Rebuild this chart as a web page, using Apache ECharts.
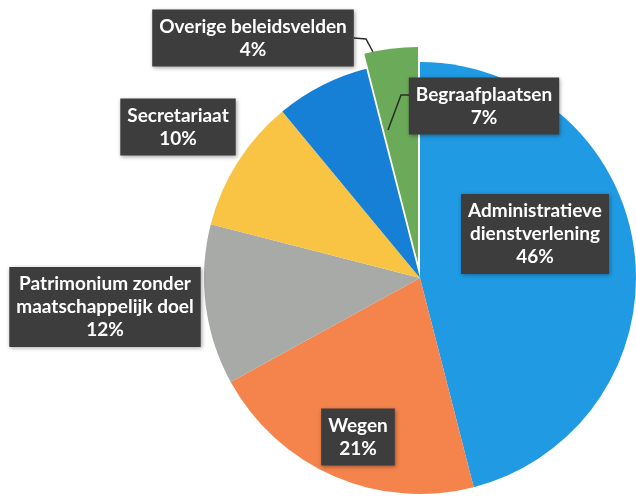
<!DOCTYPE html>
<html lang="nl">
<head>
    <meta charset="UTF-8">
    <title>Beleidsvelden</title>
    <script src="https://cdn.jsdelivr.net/npm/echarts@6/dist/echarts.min.js"></script>
</head>
<body style="margin:0;background:#fff;">
    <div id="main" style="width: 636px;height:497px;"></div>
    <script type="text/javascript">
        // data
        var categories = ['Administratieve\ndienstverlening', 'Wegen', 'Patrimonium zonder\nmaatschappelijk doel',
            'Secretariaat', 'Begraafplaatsen', 'Overige beleidsvelden'];
        var percents = [46, 21, 12, 10, 7, 4];
        var colors = ['#1f9ae3', '#f5844c', '#a7aaa6', '#f9c443', '#1580d6', '#6aaa58'];

        // het laatste stuk (Overige) steekt iets uit de taart
        var explodedIndex = 5;

        // label box centres per slice
        var labelPos = [[535, 234], [358, 437], [105, 307], [178, 127], [484, 106], [253, 38]];
        // verbindingslijntjes (alleen voor de twee kleinste stukken)
        var leaderPts = {
            4: [[410, 95], [401, 95], [388, 130]],
            5: [[354, 38], [366, 39], [373, 52]]
        };

        var myChart = echarts.init(document.getElementById('main'));

        // build pie data; `part` = 'main' draws all but the exploded slice, 'pop' only the exploded one
        function buildData(part) {
            return categories.map(function (name, i) {
                var visible = (part === 'main') ? i !== explodedIndex : i === explodedIndex;
                return {
                    name: name,
                    value: percents[i],
                    itemStyle: {color: visible ? colors[i] : 'rgba(0,0,0,0)'},
                    label: {show: visible},
                    labelLine: {show: visible && leaderPts[i] != null}
                };
            });
        }

        var labelStyle = {
            show: true,
            position: 'outside',
            formatter: function (p) { return p.name + '\n' + p.value + '%'; },
            color: '#ffffff',
            fontFamily: 'Lato',
            fontWeight: 'bold',
            fontSize: 19,
            lineHeight: 23,
            align: 'center',
            backgroundColor: '#3d3d3d',
            padding: [6, 7, 5, 7],
            shadowColor: 'rgba(0,0,0,0.35)',
            shadowBlur: 4,
            shadowOffsetX: 1,
            shadowOffsetY: 1
        };

        function layoutFn(params) {
            var p = labelPos[params.dataIndex];
            var res = {x: p[0], y: p[1], align: 'center', verticalAlign: 'middle'};
            if (leaderPts[params.dataIndex]) res.labelLinePoints = leaderPts[params.dataIndex];
            return res;
        }

        function pieSeries(part, center, z) {
            return {
                type: 'pie',
                z: z,
                center: center,
                radius: 216,
                startAngle: 90,
                clockwise: true,
                silent: true,
                avoidLabelOverlap: false,
                itemStyle: {borderWidth: 0},
                label: labelStyle,
                labelLine: {lineStyle: {color: '#2b2b2b', width: 1.5}},
                labelLayout: layoutFn,
                data: buildData(part)
            };
        }

        var option = {
            backgroundColor: '#ffffff',
            animation: false,
            series: [
                pieSeries('pop', [418, 263], 1),
                pieSeries('main', [420, 278], 2)
            ]
        };

        myChart.setOption(option);
    </script>
</body>
</html>
